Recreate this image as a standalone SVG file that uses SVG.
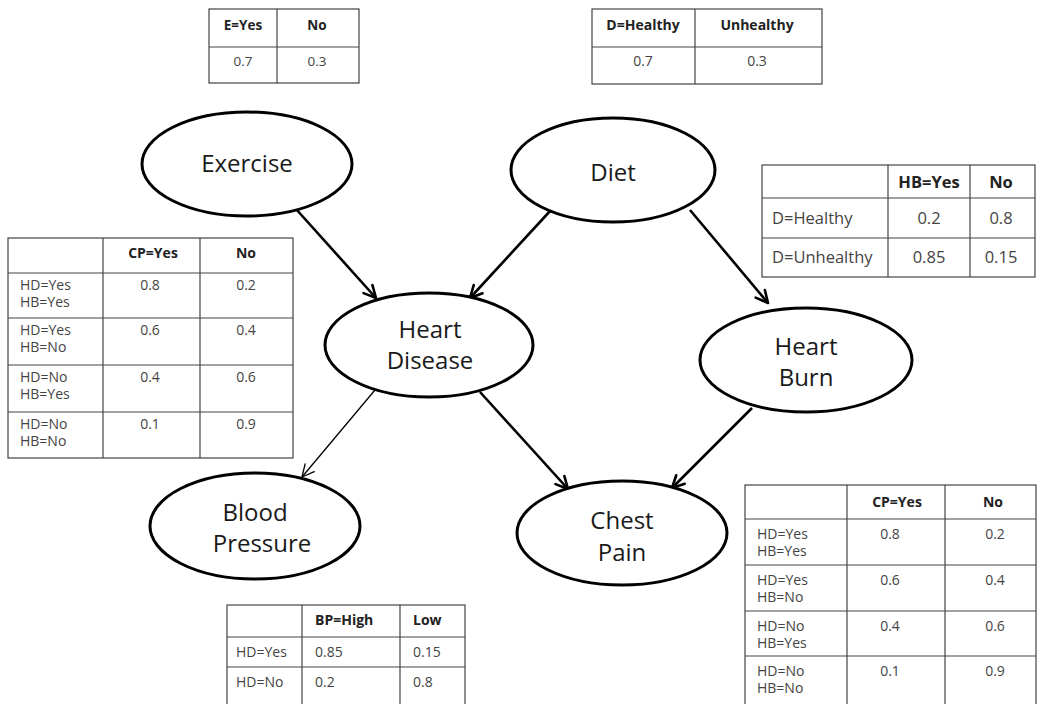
<svg xmlns="http://www.w3.org/2000/svg" width="1037" height="704" viewBox="0 0 1037 704">
  <style>
    .node ellipse { fill: #fff; stroke: #000; stroke-width: 3; }
    .node text { font-family: "Open Sans", "Noto Sans", sans-serif; font-size: 24px; fill: #1a1a1a; text-anchor: middle; }
    .edge { stroke: #000; stroke-width: 2.6; fill: none; }
    .edge.thin { stroke-width: 1.3; }
    .tbl rect { fill: #fff; stroke: #444; stroke-width: 1.2; }
    .tbl line { stroke: #444; stroke-width: 1.2; }
    .tbl text { font-family: "Open Sans", "Noto Sans", sans-serif; font-size: 14px; fill: #444; }
    .tbl text.h { font-weight: bold; fill: #222; }
    .tbl text.c { text-anchor: middle; }
    .tbl.small text { font-size: 13.5px; }
    .tbl.big text { font-size: 16.5px; }
  </style>
  <defs>
    <marker id="arrow" viewBox="0 0 16 16" refX="14" refY="8" markerWidth="16" markerHeight="16" markerUnits="userSpaceOnUse" orient="auto">
      <path d="M2,2 L14,8 L2,14" fill="none" stroke="#000" stroke-width="2.6" stroke-linecap="round" stroke-linejoin="round"/>
    </marker>
    <marker id="arrow-thin" viewBox="0 0 16 16" refX="14" refY="8" markerWidth="16" markerHeight="16" markerUnits="userSpaceOnUse" orient="auto">
      <path d="M2,2 L14,8 L2,14" fill="none" stroke="#000" stroke-width="1.3" stroke-linecap="round" stroke-linejoin="round"/>
    </marker>
  </defs>
  <rect width="1037" height="704" fill="#fff"/>

  <!-- connectors -->
  <g id="edges">
    <line class="edge" x1="296" y1="209" x2="376" y2="298" marker-end="url(#arrow)"/>
    <line class="edge" x1="551" y1="210" x2="470" y2="298" marker-end="url(#arrow)"/>
    <line class="edge" x1="690" y1="210" x2="768" y2="303" marker-end="url(#arrow)"/>
    <line class="edge thin" x1="375" y1="390" x2="302" y2="477" marker-end="url(#arrow-thin)"/>
    <line class="edge" x1="480" y1="392" x2="568" y2="489" marker-end="url(#arrow)"/>
    <line class="edge" x1="752" y1="408" x2="672" y2="488" marker-end="url(#arrow)"/>
  </g>

  <!-- nodes -->
  <g id="exercise" class="node">
    <ellipse cx="247" cy="164" rx="105" ry="52"/>
    <text x="247" y="172">Exercise</text>
  </g>
  <g id="diet" class="node">
    <ellipse cx="613" cy="170" rx="102" ry="52"/>
    <text x="613" y="181">Diet</text>
  </g>
  <g id="heart-disease" class="node">
    <ellipse cx="429" cy="345" rx="104" ry="52"/>
    <text x="430" y="338">Heart</text>
    <text x="430" y="369">Disease</text>
  </g>
  <g id="heart-burn" class="node">
    <ellipse cx="806" cy="360" rx="106" ry="52"/>
    <text x="806" y="355">Heart</text>
    <text x="806" y="386">Burn</text>
  </g>
  <g id="blood-pressure" class="node">
    <ellipse cx="255" cy="526" rx="105" ry="53"/>
    <text x="255" y="521">Blood</text>
    <text x="262" y="552">Pressure</text>
  </g>
  <g id="chest-pain" class="node">
    <ellipse cx="622" cy="533" rx="105" ry="52"/>
    <text x="622" y="529">Chest</text>
    <text x="622" y="561">Pain</text>
  </g>

  <!-- P(Exercise) -->
  <g id="cpt-exercise" class="tbl small">
    <rect x="209" y="9" width="150" height="74"/>
    <line x1="277" y1="9" x2="277" y2="83"/>
    <line x1="209" y1="47" x2="359" y2="47"/>
    <text class="h c" x="243" y="30">E=Yes</text>
    <text class="h c" x="317" y="30">No</text>
    <text class="c" x="243" y="66">0.7</text>
    <text class="c" x="317" y="66">0.3</text>
  </g>

  <!-- P(Diet) -->
  <g id="cpt-diet" class="tbl">
    <rect x="592" y="9" width="230" height="75"/>
    <line x1="695" y1="9" x2="695" y2="84"/>
    <line x1="592" y1="47" x2="822" y2="47"/>
    <text class="h c" x="643" y="30">D=Healthy</text>
    <text class="h c" x="757" y="30">Unhealthy</text>
    <text class="c" x="643" y="66">0.7</text>
    <text class="c" x="757" y="66">0.3</text>
  </g>

  <!-- P(Heart Burn | Diet) -->
  <g id="cpt-heart-burn" class="tbl big">
    <rect x="762" y="165" width="273" height="112"/>
    <line x1="888" y1="165" x2="888" y2="277"/>
    <line x1="970" y1="165" x2="970" y2="277"/>
    <line x1="762" y1="198" x2="1035" y2="198"/>
    <line x1="762" y1="238" x2="1035" y2="238"/>
    <text class="h c" x="929" y="188">HB=Yes</text>
    <text class="h c" x="1001" y="188">No</text>
    <text x="772" y="224">D=Healthy</text>
    <text class="c" x="929" y="224">0.2</text>
    <text class="c" x="1001" y="224">0.8</text>
    <text x="772" y="263">D=Unhealthy</text>
    <text class="c" x="929" y="263">0.85</text>
    <text class="c" x="1001" y="263">0.15</text>
  </g>

  <!-- P(Chest Pain | Heart Disease, Heart Burn), left copy -->
  <g id="cpt-chest-pain-left" class="tbl">
    <rect x="8" y="238" width="285" height="220"/>
    <line x1="103" y1="238" x2="103" y2="458"/>
    <line x1="200" y1="238" x2="200" y2="458"/>
    <line x1="8" y1="273" x2="293" y2="273"/>
    <line x1="8" y1="318" x2="293" y2="318"/>
    <line x1="8" y1="365" x2="293" y2="365"/>
    <line x1="8" y1="412" x2="293" y2="412"/>
    <text class="h c" x="153" y="258">CP=Yes</text>
    <text class="h c" x="246" y="258">No</text>
    <text x="20" y="290">HD=Yes</text>
    <text x="20" y="307">HB=Yes</text>
    <text class="c" x="150" y="290">0.8</text>
    <text class="c" x="246" y="290">0.2</text>
    <text x="20" y="335">HD=Yes</text>
    <text x="20" y="352">HB=No</text>
    <text class="c" x="150" y="335">0.6</text>
    <text class="c" x="246" y="335">0.4</text>
    <text x="20" y="382">HD=No</text>
    <text x="20" y="399">HB=Yes</text>
    <text class="c" x="150" y="382">0.4</text>
    <text class="c" x="246" y="382">0.6</text>
    <text x="20" y="429">HD=No</text>
    <text x="20" y="446">HB=No</text>
    <text class="c" x="150" y="429">0.1</text>
    <text class="c" x="246" y="429">0.9</text>
  </g>

  <!-- P(Blood Pressure | Heart Disease) -->
  <g id="cpt-blood-pressure" class="tbl">
    <rect x="227" y="605" width="238" height="110"/>
    <line x1="302" y1="605" x2="302" y2="715"/>
    <line x1="400" y1="605" x2="400" y2="715"/>
    <line x1="227" y1="637" x2="465" y2="637"/>
    <line x1="227" y1="667" x2="465" y2="667"/>
    <text class="h" x="315" y="625">BP=High</text>
    <text class="h" x="413" y="625">Low</text>
    <text x="236" y="657">HD=Yes</text>
    <text x="315" y="657">0.85</text>
    <text x="413" y="657">0.15</text>
    <text x="236" y="687">HD=No</text>
    <text x="315" y="687">0.2</text>
    <text x="413" y="687">0.8</text>
  </g>

  <!-- P(Chest Pain | Heart Disease, Heart Burn), right copy -->
  <g id="cpt-chest-pain-right" class="tbl">
    <rect x="745" y="485" width="291" height="230"/>
    <line x1="847" y1="485" x2="847" y2="715"/>
    <line x1="945" y1="485" x2="945" y2="715"/>
    <line x1="745" y1="519" x2="1036" y2="519"/>
    <line x1="745" y1="565" x2="1036" y2="565"/>
    <line x1="745" y1="611" x2="1036" y2="611"/>
    <line x1="745" y1="656" x2="1036" y2="656"/>
    <text class="h c" x="897" y="507">CP=Yes</text>
    <text class="h c" x="993" y="507">No</text>
    <text x="757" y="539">HD=Yes</text>
    <text x="757" y="556">HB=Yes</text>
    <text class="c" x="890" y="539">0.8</text>
    <text class="c" x="995" y="539">0.2</text>
    <text x="757" y="585">HD=Yes</text>
    <text x="757" y="602">HB=No</text>
    <text class="c" x="890" y="585">0.6</text>
    <text class="c" x="995" y="585">0.4</text>
    <text x="757" y="631">HD=No</text>
    <text x="757" y="648">HB=Yes</text>
    <text class="c" x="890" y="631">0.4</text>
    <text class="c" x="995" y="631">0.6</text>
    <text x="757" y="676">HD=No</text>
    <text x="757" y="693">HB=No</text>
    <text class="c" x="890" y="676">0.1</text>
    <text class="c" x="995" y="676">0.9</text>
  </g>
</svg>
